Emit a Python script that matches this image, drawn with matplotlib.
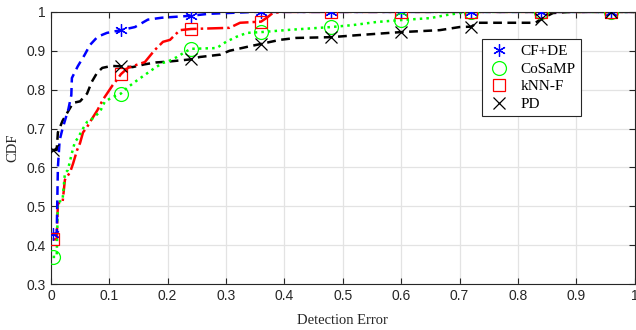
import numpy as np
import matplotlib.pyplot as plt
from matplotlib.ticker import FuncFormatter

# CDF curves (x = detection error, y = CDF)
cfde_x = [0.003, 0.01, 0.012, 0.015, 0.02, 0.024, 0.03, 0.035, 0.036, 0.046, 0.058,
          0.067, 0.08, 0.096, 0.12, 0.144, 0.166, 0.19, 0.24, 0.27, 0.35, 1.0]
cfde_y = [0.43, 0.43, 0.60, 0.67, 0.70, 0.72, 0.75, 0.786, 0.83, 0.86, 0.89,
          0.915, 0.936, 0.946, 0.953, 0.961, 0.98, 0.985, 0.99, 0.995, 1.0, 1.0]

cosamp_x = [0.003, 0.01, 0.012, 0.02, 0.024, 0.029, 0.036, 0.041, 0.046, 0.055, 0.062,
            0.067, 0.084, 0.092, 0.104, 0.12, 0.13, 0.144, 0.161, 0.178, 0.192, 0.2,
            0.216, 0.23, 0.24, 0.284, 0.3, 0.318, 0.336, 0.36, 0.41, 0.48, 0.517,
            0.558, 0.6, 0.65, 0.678, 0.705, 0.72, 1.0]
cosamp_y = [0.37, 0.37, 0.51, 0.516, 0.585, 0.593, 0.637, 0.665, 0.675, 0.70, 0.717,
            0.72, 0.743, 0.768, 0.78, 0.79, 0.804, 0.82, 0.838, 0.856, 0.869, 0.872,
            0.884, 0.897, 0.905, 0.907, 0.923, 0.936, 0.946, 0.948, 0.954, 0.961, 0.966,
            0.974, 0.979, 0.984, 0.992, 0.998, 1.0, 1.0]

knnf_x = [0.003, 0.01, 0.012, 0.02, 0.024, 0.033, 0.038, 0.045, 0.05, 0.055, 0.062,
          0.067, 0.08, 0.089, 0.098, 0.106, 0.113, 0.12, 0.132, 0.147, 0.161, 0.178,
          0.192, 0.204, 0.212, 0.221, 0.24, 0.306, 0.324, 0.36, 0.37, 0.38, 0.397, 1.0]
knnf_y = [0.415, 0.415, 0.508, 0.51, 0.568, 0.588, 0.61, 0.645, 0.663, 0.69, 0.704,
          0.717, 0.748, 0.774, 0.794, 0.812, 0.825, 0.84, 0.856, 0.864, 0.871, 0.902,
          0.923, 0.928, 0.94, 0.953, 0.956, 0.959, 0.972, 0.975, 0.985, 0.997, 1.0, 1.0]

pd_x = [0.003, 0.01, 0.012, 0.02, 0.038, 0.05, 0.062, 0.07, 0.079, 0.088, 0.104,
        0.12, 0.14, 0.16, 0.18, 0.2, 0.24, 0.255, 0.29, 0.306, 0.336, 0.358, 0.392,
        0.42, 0.48, 0.524, 0.58, 0.6, 0.666, 0.7, 0.72, 0.73, 0.83, 0.84, 0.86, 0.89, 1.0]
pd_y = [0.645, 0.645, 0.69, 0.72, 0.766, 0.77, 0.79, 0.82, 0.843, 0.856, 0.861,
        0.86, 0.858, 0.865, 0.87, 0.872, 0.878, 0.884, 0.89, 0.90, 0.91, 0.917, 0.928,
        0.933, 0.935, 0.94, 0.946, 0.948, 0.953, 0.961, 0.962, 0.972, 0.972, 0.982, 0.997, 1.0, 1.0]

marker_x = [0.003, 0.12, 0.24, 0.36, 0.48, 0.6, 0.72, 0.84, 0.96]

serif = 'Liberation Serif'
sans = 'Liberation Sans'

fig = plt.figure(figsize=(6.36, 3.3), dpi=100)
ax = fig.add_axes([0.080, 0.139, 0.918, 0.825])

series = [
    ('CF+DE', cfde_x, cfde_y, 'blue', (0, (3.5, 2.2)), (6, 2, 0), 9),
    ('CoSaMP', cosamp_x, cosamp_y, '#00ff00', ':', 'o', 10),
    ('kNN-F', knnf_x, knnf_y, 'red', '-.', 's', 8),
    ('PD', pd_x, pd_y, 'black', (0, (3.5, 2.2)), 'x', 8),
]

# draw lines first (black under the others), then markers
for name, xs, ys, col, ls, mk, ms in reversed(series):
    ax.plot(xs, ys, color=col, linestyle=ls, linewidth=1.8, zorder=2)

for name, xs, ys, col, ls, mk, ms in series:
    my = np.interp(marker_x, xs, ys)
    ax.plot(marker_x, my, linestyle='none', marker=mk, markersize=ms,
            markerfacecolor='none', markeredgecolor=col, markeredgewidth=0.9,
            label=name, zorder=3)

ax.set_xlim(0, 1)
ax.set_ylim(0.3, 1)
ax.set_xticks(np.arange(0, 1.01, 0.1))
ax.set_yticks(np.arange(0.3, 1.01, 0.1))
fmt = FuncFormatter(lambda v, p: ('%g' % round(v, 2)))
ax.xaxis.set_major_formatter(fmt)
ax.yaxis.set_major_formatter(fmt)
ax.tick_params(direction='in', length=4, top=True, right=True, labelsize=10,
               width=0.8, colors='#262626')
for lbl in ax.get_xticklabels() + ax.get_yticklabels():
    lbl.set_fontfamily(sans)
    lbl.set_color('#262626')
ax.grid(True, color='#e3e3e3', linewidth=0.9)
ax.set_axisbelow(True)
for sp in ax.spines.values():
    sp.set_linewidth(0.8)
    sp.set_color('#262626')

ax.set_xlabel('Detection Error', fontfamily=serif, fontsize=10.5, labelpad=8, color='#262626')
ax.set_ylabel('CDF', fontfamily=serif, fontsize=10.5, labelpad=5, color='#262626')

leg = ax.legend(loc='upper right', bbox_to_anchor=(0.921, 0.927),
                prop={'family': serif, 'size': 11}, fancybox=False,
                edgecolor='#262626', framealpha=1, borderpad=0.35,
                handletextpad=0.6, labelspacing=0.25, handlelength=1.6)
leg.get_frame().set_linewidth(0.8)

fig.savefig('out.png', dpi=100)
